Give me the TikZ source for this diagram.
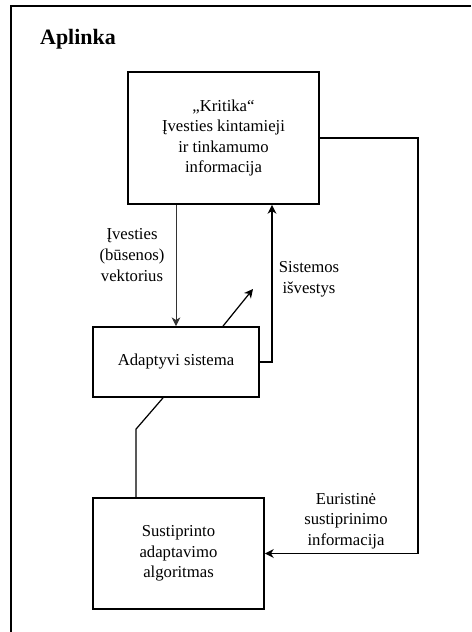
\documentclass[tikz,border=0pt]{standalone}
\usepackage{fontspec}
\setmainfont{Liberation Serif}
\usetikzlibrary{arrows.meta}

\begin{document}
\begin{tikzpicture}[x=0.02cm,y=-0.02cm,
        box/.style={draw,line width=1pt,align=center,inner sep=0pt,
            font=\rmfamily\fontsize{9.5}{11.7}\selectfont},
        lbl/.style={align=center,inner sep=0pt,font=\rmfamily\fontsize{9.5}{11.7}\selectfont},
        arr/.style={-{Stealth[length=5pt,width=5pt,inset=1.5pt]}}]
        \useasboundingbox (0,0) rectangle (471,632);
        % environment frame
        \draw[line width=1.2pt] (471,6)--(11,6)--(11,632);
        \node[font=\rmfamily\fontsize{12.5}{15}\selectfont\bfseries] (env) at (78,39) {Aplinka};

        \node[box,minimum width=3.82cm,minimum height=2.64cm] (krit) at (223.5,138) {„Kritika“\\Įvesties kintamieji\\ir tinkamumo\\informacija};
        \node[box,minimum width=3.32cm,minimum height=1.4cm] (adapt) at (176,362) {Adaptyvi sistema};
        \node[box,minimum width=3.42cm,minimum height=2.22cm] (sust) at (178.5,553.5) {Sustiprinto\\adaptavimo\\algoritmas};
        \coordinate (outtip) at (253,289);

        \draw[arr,line width=0.55pt,black!80] (adapt.north |- krit.south)--(adapt.north);
        \draw[arr,line width=0.9pt] (adapt.east) -| ([xshift=0.97cm]krit.south);
        \draw[arr,line width=0.7pt] ([xshift=0.94cm]adapt.north)--(outtip);
        \draw[arr,line width=0.9pt] (krit.east)--++(98,0) |- (sust.east);
        \draw[line width=0.7pt] ([xshift=-0.85cm]sust.north)--++(0,-68)--([xshift=-0.26cm]adapt.south);

        \node[lbl] (invec) at (132,255) {Įvesties\\(būsenos)\\vektorius};
        \node[lbl] (sysout) at (309,279) {Sistemos\\išvestys};
        \node[lbl] (heur) at (346,521) {Euristinė\\sustiprinimo\\informacija};
    \end{tikzpicture}
\end{document}
